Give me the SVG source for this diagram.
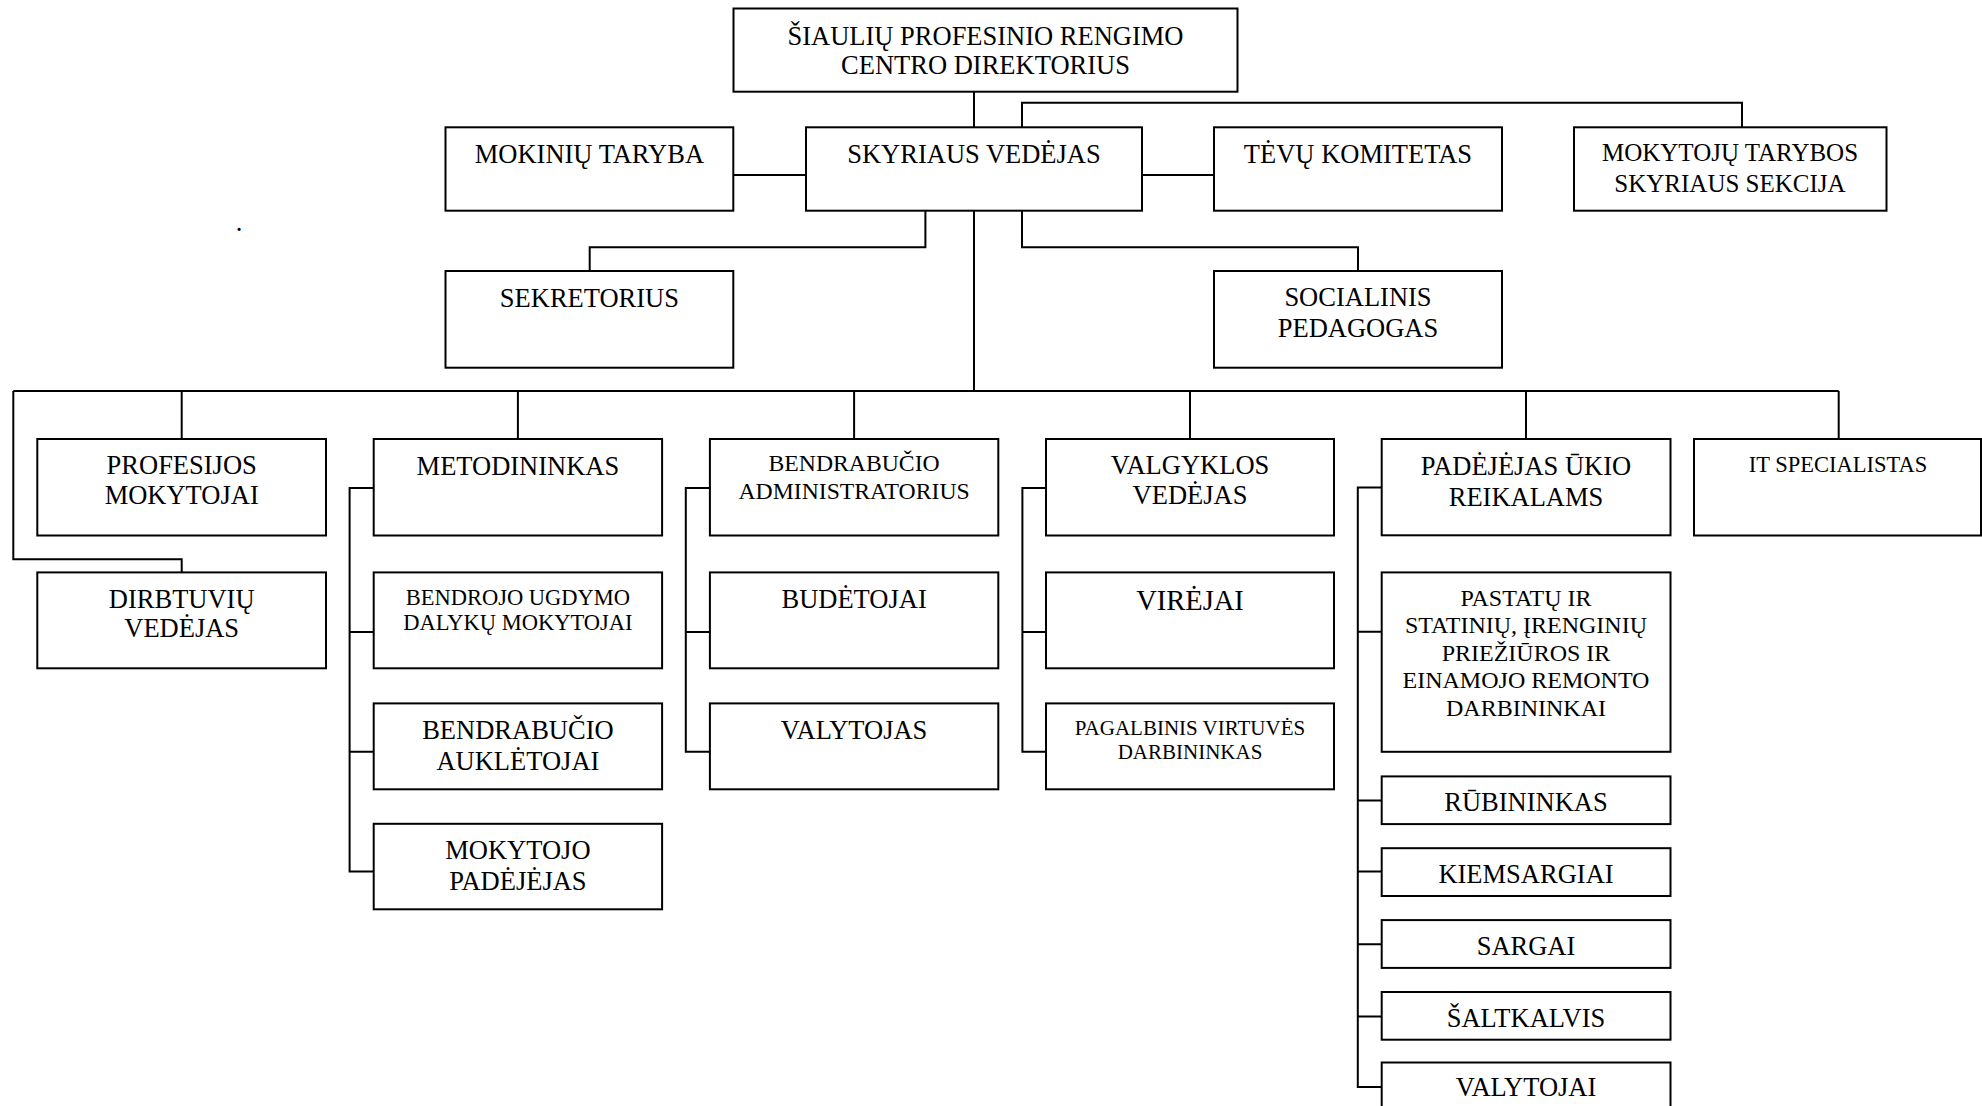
<svg xmlns="http://www.w3.org/2000/svg" width="1982" height="1106" viewBox="0 0 1982 1106">
<style>
  .box { fill: #ffffff; stroke: #000000; stroke-width: 2; }
  .c { fill: none; stroke: #000000; stroke-width: 2; }
  text { font-family: "Liberation Serif", "Times New Roman", serif; fill: #000000; text-anchor: middle; font-size: 26.5px; }
  .s25 { font-size: 25px; }
  .s24 { font-size: 24px; }
  .s237 { font-size: 23.7px; }
  .s225 { font-size: 22.5px; }
  .s21 { font-size: 21px; }
  .s285 { font-size: 28.5px; }
</style>
<rect x="0" y="0" width="1982" height="1106" fill="#ffffff"/>

<g id="connectors">
  <path class="c" d="M974 91.7 V127.3"/>
  <path class="c" d="M1022 127.3 V102.7 H1742 V127.3"/>
  <path class="c" d="M733 175 H806"/>
  <path class="c" d="M1142 175 H1214"/>
  <path class="c" d="M925.4 210.7 V247.3 H589.7 V271"/>
  <path class="c" d="M1022 210.7 V247.3 H1358 V271"/>
  <path class="c" d="M974 210.7 V391"/>
  <path class="c" d="M13.3 391 H1838.7"/>
  <path class="c" d="M181.7 391 V439"/>
  <path class="c" d="M517.9 391 V439"/>
  <path class="c" d="M854.1 391 V439"/>
  <path class="c" d="M1190 391 V439"/>
  <path class="c" d="M1526 391 V439"/>
  <path class="c" d="M1838.7 391 V439"/>
  <path class="c" d="M13.3 391 V559.3 H181.7 V572.4"/>
  <path class="c" d="M373.7 487.9 H349.6 V871.4 H373.7 M349.6 632 H373.7 M349.6 751.7 H373.7"/>
  <path class="c" d="M709.9 487.9 H685.8 V751.7 H709.9 M685.8 632 H709.9"/>
  <path class="c" d="M1046 487.9 H1022.4 V751.7 H1046 M1022.4 632 H1046"/>
  <path class="c" d="M1381.7 487.6 H1357.8 V1087 H1381.7 M1357.8 631.7 H1381.7 M1357.8 800.5 H1381.7 M1357.8 871.4 H1381.7 M1357.8 944.2 H1381.7 M1357.8 1016.5 H1381.7"/>
</g>

<g id="direktorius">
  <rect class="box" x="733.5" y="8.5" width="504" height="83.2"/>
  <text x="985.5" y="45">ŠIAULIŲ PROFESINIO RENGIMO</text>
  <text x="985.5" y="74">CENTRO DIREKTORIUS</text>
</g>
<g id="mokiniu-taryba">
  <rect class="box" x="445.5" y="127.3" width="287.8" height="83.4"/>
  <text x="589.4" y="163.3">MOKINIŲ TARYBA</text>
</g>
<g id="skyriaus-vedejas">
  <rect class="box" x="806" y="127.3" width="336" height="83.4"/>
  <text x="974" y="163.3">SKYRIAUS VEDĖJAS</text>
</g>
<g id="tevu-komitetas">
  <rect class="box" x="1214" y="127.3" width="288" height="83.4"/>
  <text x="1358" y="163.3">TĖVŲ KOMITETAS</text>
</g>
<g id="mokytoju-tarybos">
  <rect class="box" x="1574" y="127.3" width="312.5" height="83.4"/>
  <text class="s25" x="1730" y="160.7">MOKYTOJŲ TARYBOS</text>
  <text class="s25" x="1730" y="191.7">SKYRIAUS SEKCIJA</text>
</g>
<g id="sekretorius">
  <rect class="box" x="445.5" y="271" width="287.8" height="96.7"/>
  <text x="589.4" y="306.7">SEKRETORIUS</text>
</g>
<g id="socialinis-pedagogas">
  <rect class="box" x="1214" y="271" width="288" height="96.7"/>
  <text x="1358" y="306.3">SOCIALINIS</text>
  <text x="1358" y="336.7">PEDAGOGAS</text>
</g>
<text x="239" y="231" font-size="26">.</text>

<g id="profesijos-mokytojai">
  <rect class="box" x="37.3" y="439" width="288.7" height="96.5"/>
  <text x="181.7" y="473.8">PROFESIJOS</text>
  <text x="181.7" y="504.1">MOKYTOJAI</text>
</g>
<g id="dirbtuviu-vedejas">
  <rect class="box" x="37.3" y="572.4" width="288.7" height="95.9"/>
  <text x="181.7" y="607.6">DIRBTUVIŲ</text>
  <text x="181.7" y="636.9">VEDĖJAS</text>
</g>

<g id="metodininkas">
  <rect class="box" x="373.7" y="439" width="288.4" height="96.5"/>
  <text x="517.9" y="474.8">METODININKAS</text>
</g>
<g id="bendrojo-ugdymo">
  <rect class="box" x="373.7" y="572.4" width="288.4" height="95.9"/>
  <text class="s225" x="517.9" y="604.8">BENDROJO UGDYMO</text>
  <text class="s225" x="517.9" y="630">DALYKŲ MOKYTOJAI</text>
</g>
<g id="bendrabucio-aukletojai">
  <rect class="box" x="373.7" y="703.4" width="288.4" height="85.9"/>
  <text x="517.9" y="738.6">BENDRABUČIO</text>
  <text x="517.9" y="769.7">AUKLĖTOJAI</text>
</g>
<g id="mokytojo-padejejas">
  <rect class="box" x="373.7" y="823.8" width="288.4" height="85.5"/>
  <text x="517.9" y="859.3">MOKYTOJO</text>
  <text x="517.9" y="889.7">PADĖJĖJAS</text>
</g>

<g id="bendrabucio-administratorius">
  <rect class="box" x="709.9" y="439" width="288.4" height="96.5"/>
  <text class="s237" x="854.1" y="471.4">BENDRABUČIO</text>
  <text class="s237" x="854.1" y="499">ADMINISTRATORIUS</text>
</g>
<g id="budetojai">
  <rect class="box" x="709.9" y="572.4" width="288.4" height="95.9"/>
  <text x="854.1" y="607.6">BUDĖTOJAI</text>
</g>
<g id="valytojas">
  <rect class="box" x="709.9" y="703.4" width="288.4" height="85.9"/>
  <text x="854.1" y="738.6">VALYTOJAS</text>
</g>

<g id="valgyklos-vedejas">
  <rect class="box" x="1046" y="439" width="288" height="96.5"/>
  <text x="1190" y="473.8">VALGYKLOS</text>
  <text x="1190" y="504.1">VEDĖJAS</text>
</g>
<g id="virejai">
  <rect class="box" x="1046" y="572.4" width="288" height="95.9"/>
  <text class="s285" x="1190" y="610.3">VIRĖJAI</text>
</g>
<g id="pagalbinis-virtuves-darbininkas">
  <rect class="box" x="1046" y="703.4" width="288" height="85.9"/>
  <text class="s21" x="1190" y="734.5">PAGALBINIS VIRTUVĖS</text>
  <text class="s21" x="1190" y="759.3">DARBININKAS</text>
</g>

<g id="padejejas-ukio-reikalams">
  <rect class="box" x="1381.7" y="439" width="288.8" height="96.3"/>
  <text x="1526" y="475">PADĖJĖJAS ŪKIO</text>
  <text x="1526" y="506.1">REIKALAMS</text>
</g>
<g id="pastatu-darbininkai">
  <rect class="box" x="1381.7" y="572.4" width="288.8" height="179.4"/>
  <text class="s24" x="1526" y="605.8">PASTATŲ IR</text>
  <text class="s24" x="1526" y="632.7">STATINIŲ, ĮRENGINIŲ</text>
  <text class="s24" x="1526" y="660.5">PRIEŽIŪROS IR</text>
  <text class="s24" x="1526" y="688.3">EINAMOJO REMONTO</text>
  <text class="s24" x="1526" y="716.1">DARBININKAI</text>
</g>
<g id="rubininkas">
  <rect class="box" x="1381.7" y="776.4" width="288.8" height="47.7"/>
  <text x="1526" y="811.2">RŪBININKAS</text>
</g>
<g id="kiemsargiai">
  <rect class="box" x="1381.7" y="848.2" width="288.8" height="47.8"/>
  <text x="1526" y="883">KIEMSARGIAI</text>
</g>
<g id="sargai">
  <rect class="box" x="1381.7" y="920.1" width="288.8" height="47.8"/>
  <text x="1526" y="954.9">SARGAI</text>
</g>
<g id="saltkalvis">
  <rect class="box" x="1381.7" y="992" width="288.8" height="47.7"/>
  <text x="1526" y="1026.7">ŠALTKALVIS</text>
</g>
<g id="valytojai">
  <rect class="box" x="1381.7" y="1062.5" width="288.8" height="50"/>
  <text x="1526" y="1095.5">VALYTOJAI</text>
</g>

<g id="it-specialistas">
  <rect class="box" x="1694" y="439" width="287" height="96.5"/>
  <text class="s225" x="1838" y="471.7">IT SPECIALISTAS</text>
</g>
</svg>
